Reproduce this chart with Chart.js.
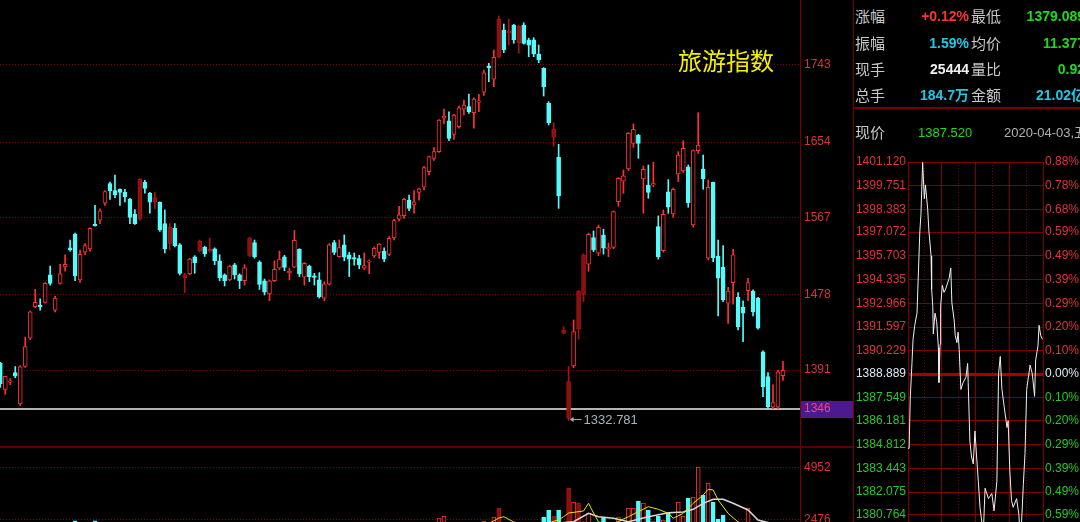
<!DOCTYPE html>
<html>
<head>
<meta charset="utf-8">
<script src="https://cdn.jsdelivr.net/npm/chart.js@4.4.0/dist/chart.umd.min.js"></script>
<style>
html, body { margin: 0; padding: 0; background: #000; width: 1080px; height: 522px; overflow: hidden; }
canvas { position: absolute; }
.ln { position: absolute; background: #7a0000; }
.lab { position: absolute; font: 15px "Noto Sans CJK SC", sans-serif; color: #c8c8c8; line-height: 20px; white-space: nowrap; }
.val { position: absolute; width: 110px; text-align: right; font: bold 14px "Liberation Sans", "Noto Sans CJK SC", sans-serif; line-height: 20px; white-space: nowrap; }
</style>
</head>
<body>
<canvas id="kline" width="853" height="446" style="left:0;top:0"></canvas>
<canvas id="vol" width="853" height="130" style="left:0;top:448px"></canvas>
<canvas id="intra" width="260" height="440" style="left:853px;top:150px"></canvas>

<div class="ln" style="left:853px;top:0;width:1px;height:522px"></div>
<div class="ln" style="left:853px;top:107px;width:227px;height:2px"></div>
<div class="ln" style="left:0;top:446px;width:853px;height:2px;background:#5a0000"></div>

<div style="position:absolute;left:678px;top:45px;font:24px 'Noto Sans CJK SC';color:#f2f200;line-height:30px">旅游指数</div>

<div class="lab" style="left:855px;top:6px">涨幅</div>
<div class="lab" style="left:855px;top:33px">振幅</div>
<div class="lab" style="left:855px;top:59px">现手</div>
<div class="lab" style="left:855px;top:85px">总手</div>
<div class="val" style="left:859px;top:6px;color:#ff3232">+0.12%</div>
<div class="val" style="left:859px;top:33px;color:#1ec8e6">1.59%</div>
<div class="val" style="left:859px;top:59px;color:#f0f0f0">25444</div>
<div class="val" style="left:859px;top:85px;color:#1ec8e6">184.7万</div>
<div class="lab" style="left:971px;top:6px">最低</div>
<div class="lab" style="left:971px;top:33px">均价</div>
<div class="lab" style="left:971px;top:59px">量比</div>
<div class="lab" style="left:971px;top:85px">金额</div>
<div class="val" style="left:975px;top:6px;color:#20d820">1379.089</div>
<div class="val" style="left:975px;top:33px;color:#20d820">11.377</div>
<div class="val" style="left:975px;top:59px;color:#20d820">0.92</div>
<div class="val" style="left:975px;top:85px;color:#1ec8e6">21.02亿</div>
<div class="lab" style="left:855px;top:122px">现价</div>
<div style="position:absolute;left:918px;top:123px;font:13px 'Liberation Sans';color:#20d820;line-height:20px">1387.520</div>
<div style="position:absolute;left:1004px;top:123px;font:13px 'Liberation Sans','Noto Sans CJK SC';color:#b0b0b0;line-height:20px;white-space:nowrap">2020-04-03,五</div>

<script>
// daily candles, oldest first
const open = [1399,1368.7,1377,1388,1352,1395,1427.6,1464,1466,1469,
  1500.7,1460,1491,1510,1532,1548,1495,1527,1530.7,1559,
  1564,1583.4,1606,1598,1599.6,1596,1588,1570.6,1565,1607.6,
  1595,1585,1584.6,1560,1537,1554.6,1535.4,1497.6,1502,1521.7,
  1528,1532.6,1528,1530.7,1517,1500.7,1494.9,1512.5,1500.7,1494,
  1523.3,1538,1515.3,1494,1478.7,1494,1508.6,1521.7,1503.3,1509.8,
  1530.3,1498,1511,1499.8,1495,1473.9,1490,1538,1521.7,1535.4,
  1523.8,1520.7,1519.6,1508.6,1515.5,1522.6,1526.6,1528,1524.5,1543.5,
  1565,1569,1587,1581.4,1596,1601.9,1619.9,1635.3,1643,1681.5,
  1678.7,1663,1671.9,1691.9,1694.9,1688,1700,1711.5,1742,1726.5,
  1752.6,1783.4,1779.6,1789.2,1768.7,1789.2,1771.9,1771.9,1755.7,1739.2,
  1698.8,1659.6,1636.5,1433.4,1335,1395.6,1438,1478.4,1513,1543.7,
  1525.7,1546.8,1531,1532.6,1585.3,1609,1623,1652.6,1662.2,1611.4,
  1604.5,1604.5,1556.4,1528.7,1596.7,1571,1617.2,1620.7,1625.6,1558.4,
  1644.1,1623,1520,1607.6,1522.6,1509.6,1468,1491.8,1474.9,1463.4,
  1482.6,1482.2,1473.8,1412,1383.3,1348,1348,1384.6];
const high = [1400,1384,1381,1395,1396,1429,1459,1484,1473,1492,
  1511,1476,1513,1524,1541,1549,1529.5,1537,1555,1581,
  1577,1598,1608,1616,1600,1599.6,1589,1576,1612,1610,
  1596,1596,1585,1575.7,1560,1560,1537,1502.6,1520,1523,
  1541,1534,1543,1532,1524,1502,1512,1514,1502,1512.5,
  1544,1541,1517,1496,1495,1517,1528.3,1523.3,1508.6,1552,
  1531,1515,1512,1502.6,1503.4,1493,1537,1540.6,1541,1546.9,
  1527,1526,1523.3,1526,1518,1533,1537,1532,1545,1565,
  1580,1589,1593,1598,1601,1626,1638,1647.6,1680,1692,
  1689,1686,1695.7,1702.6,1709.5,1705,1709,1737,1745,1760.3,
  1799.5,1790.3,1796,1790,1789,1791.8,1774,1774.5,1766,1740,
  1700.7,1676.6,1651.5,1441,1395,1448.7,1483,1525,1549,1551.5,
  1558.4,1553.4,1537.3,1574.6,1613,1621.8,1665,1675,1663,1626.4,
  1627.6,1630.8,1568.8,1575.7,1610.7,1601,1643,1655.6,1627.6,1645,
  1688,1639.1,1610.3,1608,1541,1534.6,1486.5,1530.3,1480.3,1470.7,
  1496.9,1483.4,1475,1413,1388,1374,1391,1401.12];
const low = [1371,1363,1374,1382,1350,1394,1426,1463,1460,1468,
  1489,1458,1490,1505,1528,1494,1492,1524,1528,1557,
  1560,1581,1588,1590,1581,1585,1560,1559,1564,1595,
  1572,1577,1551,1526,1529.5,1533,1500.7,1480.4,1501,1502.6,
  1527,1522,1527,1512.5,1494,1488,1494,1496,1485,1489,
  1522,1520,1484,1477.6,1471,1493,1507,1505.6,1494.9,1509,
  1498.8,1489,1493,1489,1474,1471,1489,1524,1521,1517,
  1498.8,1512,1507.8,1507,1502,1521,1520,1516,1523,1541,
  1563,1566,1575,1572,1587,1598.8,1616,1632.8,1642,1675,
  1655.7,1657,1670,1685.3,1687,1670,1689,1708,1723.8,1718,
  1751,1757.2,1766,1768,1756.5,1767,1752.6,1752.6,1745.7,1707.2,
  1673.8,1649,1577.6,1433,1332.781,1393.7,1426.5,1470,1505,1527.6,
  1523,1524.8,1521.7,1531,1580,1595,1621,1648,1635.3,1571.9,
  1589.2,1602.6,1519,1527,1571.9,1567.3,1608.3,1619,1578.8,1556,
  1641,1599.6,1518,1516,1453.4,1469.9,1444.9,1467,1437.2,1423.7,
  1471,1453.4,1438,1360.2,1346.5,1346.5,1346.5,1379.089];
const close = [1375,1383.6,1378,1384,1394.6,1418,1458,1469,1464,1491,
  1491,1474,1502,1513,1529.5,1500,1524.5,1534.5,1554.6,1557.5,
  1574.6,1597,1598,1593,1596,1591,1567,1560,1611,1600.7,
  1584.6,1590,1552.6,1530.7,1556,1534.5,1502.6,1500.7,1519,1514.8,
  1539.6,1525,1530.5,1517,1497.6,1494,1511,1500.7,1494,1509,
  1543.5,1521.7,1489.9,1480.7,1494,1507.3,1519,1509.4,1505,1540.6,
  1502,1514,1498.8,1497.8,1475.6,1490.4,1535.4,1526.6,1532.4,1521.3,
  1519,1518.8,1512.2,1511.6,1516.7,1531.5,1536.3,1519,1542.9,1563.5,
  1570,1588,1577.6,1585,1600,1624.6,1637.2,1643,1679.5,1684,
  1658.4,1685.3,1693.7,1696.8,1689,1703.8,1701.5,1734,1740,1751.9,
  1795.7,1760.3,1782.2,1771.9,1788,1768,1766,1755.7,1748.8,1718,
  1676.5,1668.8,1591.9,1437.2,1377.5,1435.3,1482.2,1523.8,1547.6,1529.5,
  1555.7,1531.5,1532.4,1573.8,1612.3,1615,1664.2,1668.8,1652.6,1622.6,
  1596,1606,1521.7,1570.7,1579,1599.6,1639.1,1646.9,1584.1,1644.1,
  1650.7,1611.4,1601.9,1520.6,1496.9,1471.8,1482.2,1523.8,1441,1456.5,
  1491.8,1458.4,1439.2,1371.8,1348.7,1353.3,1388.889,1390.56];
const volume = [1800,1900,1500,1600,2200,2100,2300,1900,1700,2000,
  1900,1600,1800,1700,1500,2440,2000,1600,1900,2440,
  2000,2100,1900,1800,1500,1600,2000,1700,2300,1800,
  1700,1600,2000,2100,1800,1700,1900,1600,1500,1400,
  1600,1400,1300,1500,1700,1300,1400,1500,1300,1400,
  1800,1600,1700,1600,1700,1500,1600,1500,1300,1900,
  1700,1500,1400,1300,1600,1500,1900,1600,1500,1600,
  1400,1300,1300,1200,1300,1400,1500,1400,1600,1900,
  2000,2100,1900,1800,2000,2200,2300,2200,2571,2666,
  2300,2200,2300,2100,2000,2300,2100,2428,2200,2619,
  3047,2300,2200,2100,2300,2200,1900,2100,1800,2619,
  2952,2666,2952,1900,3999,3333,3285,2400,2809,2350,
  2200,2550,2000,2300,2619,2300,3047,3047,3380,3285,
  2952,2400,2666,2476,2809,2300,3333,2666,3523,3571,
  5000,3666,4237,3333,2523,2714,2300,2350,2200,2300,
  3047,2300,2100,2400,2300,2000,1900,1100];
// volume moving averages, read at a few days
const ma5Day = [98,100,101,103,106,110,112,113,114,117,118,119,120,123,126,128,130,132,134,135,137,139,141,142,143,144,146,148,151];
const ma5Val = [2300,2571,2633,2381,2250,2350,2480,2633,2809,2904,3271,2809,2381,2300,2633,2871,3109,2985,2795,2557,2795,3271,3666,3937,3904,3428,2795,2381,2250];
const ma10Day = [110,115,118,120,123,126,130,134,137,139,141,143,145,147,150,152,155];
const ma10Val = [2300,2395,2795,2633,2557,2395,2633,2823,2857,2985,3271,3461,3461,3271,2952,2476,2300];
const priceTicks = [1391, 1478, 1567, 1654, 1743];
const supportLevel = 1346;
const volTicks = [2476, 4952];
const darkUp = [28,31,34,37,40,42,50,100,102,104,111,113,114,116,117];

// intraday (minutes since open)
const intraMin = [0,2,4,7,9,12,16,21,23,26,29,31,35,37,41,42,44,45,48,51,54,55,57,58,61,64,67,71,73,76,78,82,84,87,89,91,94,98,103,106,107,110,113,116,119,122,125,128,131,134,137,143,149,153,158,161,164,167,171,176,178,181,184,187,193,197,200,202,205,208,211,214,217,221,225,227,231,233,236,239];
const intraPrice = [1384.6,1384.6,1387.5,1389.5,1390.9,1391.7,1392.4,1397.1,1398.1,1401.1,1399.0,1399.8,1398.4,1397.2,1395.7,1393.8,1392.8,1391.2,1392.4,1391.9,1390.4,1388.4,1390.6,1392.8,1394.0,1393.6,1393.8,1394.2,1394.4,1395.0,1393.0,1392.0,1391.1,1390.7,1391.3,1390.3,1388.0,1388.4,1388.7,1389.5,1388.4,1385.0,1384.1,1383.7,1385.6,1384.1,1382.7,1381.2,1380.4,1379.8,1382.3,1381.7,1382.0,1381.0,1382.7,1388.9,1389.9,1388.0,1387.0,1385.8,1386.2,1383.3,1381.6,1381.2,1381.7,1380.8,1379.1,1380.4,1382.5,1384.3,1388.0,1388.7,1389.4,1388.9,1387.6,1389.7,1390.5,1391.7,1391.1,1390.9];
const intraLabels = ['1401.120','1399.751','1398.383','1397.072','1395.703','1394.335','1392.966','1391.597','1390.229','1388.889','1387.549','1386.181','1384.812','1383.443','1382.075','1380.764','1379.395','1378.026','1376.658'];
const intraPct = ['0.88%','0.78%','0.68%','0.59%','0.49%','0.39%','0.29%','0.20%','0.10%','0.00%','0.10%','0.20%','0.29%','0.39%','0.49%','0.59%','0.68%','0.78%','0.88%'];
const preClose = 1388.889;

Chart.defaults.font.family = '"Liberation Sans", Arial, sans-serif';
Chart.defaults.font.size = 12;

const RED = '#ff3232', CYAN = '#54fcfc', DARK = '#a81414', AXIS = '#7a0000';
const days = open.map((_, i) => i);
const dark = new Set(darkUp);
const isUp = i => close[i] >= open[i];
const lineColor = i => isUp(i) ? (dark.has(i) ? DARK : RED) : CYAN;
const fillColor = i => isUp(i) ? (dark.has(i) ? '#8a1010' : '#000') : CYAN;
const xRange = { type: 'linear', display: false, offset: false, min: -0.06, max: 160.42 };
const noPad = w => s => { s.width = w; s.paddingTop = 0; s.paddingBottom = 0; };

const klineExtras = {
  id: 'klineExtras',
  beforeDraw(chart) {
    const { ctx, chartArea: a, scales: { y } } = chart;
    const py = Math.round(y.getPixelForValue(supportLevel));
    ctx.save();
    ctx.fillStyle = '#4c1a8e';
    ctx.fillRect(a.right + 1, py - 8, 52, 17);
    ctx.restore();
  },
  beforeDatasetsDraw(chart) {
    const { ctx, chartArea: a, scales: { y } } = chart;
    const py = Math.round(y.getPixelForValue(supportLevel));
    ctx.save();
    ctx.fillStyle = '#b4b4b4';
    ctx.fillRect(a.left, py - 1, a.right - a.left, 2);
    ctx.restore();
  },
  afterDatasetsDraw(chart) {
    const { ctx, scales: { x, y } } = chart;
    const lo = Math.min(...low);
    const i = low.indexOf(lo);
    const px = x.getPixelForValue(i) + 1, py = Math.round(y.getPixelForValue(lo)) - 0.5;
    ctx.save();
    ctx.strokeStyle = '#a8a8a8';
    ctx.fillStyle = '#a8a8a8';
    ctx.lineWidth = 1;
    ctx.beginPath(); ctx.moveTo(px + 2, py); ctx.lineTo(px + 12, py); ctx.stroke();
    ctx.beginPath(); ctx.moveTo(px, py); ctx.lineTo(px + 4, py - 2.5); ctx.lineTo(px + 4, py + 2.5); ctx.closePath(); ctx.fill();
    ctx.font = '13px "Liberation Sans"';
    ctx.fillStyle = '#aab2bc';
    ctx.textBaseline = 'middle';
    ctx.fillText(lo.toFixed(3), px + 14, py + 1);
    ctx.restore();
  }
};

new Chart(document.getElementById('kline'), {
  type: 'bar',
  data: {
    datasets: [
      {
        data: days.map(i => ({ x: i, y: [low[i], high[i]] })),
        backgroundColor: days.map(lineColor),
        barThickness: 1, grouped: false, order: 2
      },
      {
        data: days.map(i => ({ x: i, y: [Math.min(open[i], close[i]), Math.max(open[i], close[i])] })),
        backgroundColor: days.map(fillColor),
        borderColor: days.map(lineColor),
        borderWidth: 1, borderSkipped: false, barThickness: 4, minBarLength: 1,
        grouped: false, order: 1
      }
    ]
  },
  options: {
    responsive: false, animation: false, events: [],
    layout: { padding: 0 },
    plugins: { legend: { display: false }, tooltip: { enabled: false } },
    scales: {
      x: xRange,
      y: {
        position: 'right', min: 1303.3, max: 1818.0,
        afterBuildTicks: s => { s.ticks = [supportLevel].concat(priceTicks).map(v => ({ value: v })); },
        afterFit: noPad(53),
        grid: { color: c => c.tick && c.tick.value === supportLevel ? 'rgba(0,0,0,0)' : '#8a0000', drawTicks: false },
        border: { color: AXIS, dash: [1, 2] },
        ticks: {
          padding: 4, autoSkip: false,
          color: c => c.tick && c.tick.value === supportLevel ? '#f04a6e' : '#dc3232',
          callback: v => String(v)
        }
      }
    }
  },
  plugins: [klineExtras]
});

new Chart(document.getElementById('vol'), {
  type: 'bar',
  data: {
    datasets: [
      {
        type: 'line', data: ma5Day.map((d, k) => ({ x: d, y: ma5Val[k] })),
        borderColor: '#e6e600', borderWidth: 1, pointRadius: 0, order: 0
      },
      {
        type: 'line', data: ma10Day.map((d, k) => ({ x: d, y: ma10Val[k] })),
        borderColor: '#d8d8d8', borderWidth: 1.5, pointRadius: 0, order: 0
      },
      {
        data: days.map(i => ({ x: i, y: volume[i] })),
        backgroundColor: days.map(fillColor),
        borderColor: days.map(lineColor),
        borderWidth: 1, borderSkipped: false, barThickness: 4, order: 1
      }
    ]
  },
  options: {
    responsive: false, animation: false, events: [],
    layout: { padding: { bottom: 6 } },
    plugins: { legend: { display: false }, tooltip: { enabled: false } },
    scales: {
      x: xRange,
      y: {
        position: 'right', min: 0, max: 5904,
        afterBuildTicks: s => { s.ticks = volTicks.map(v => ({ value: v })); },
        afterFit: noPad(53),
        grid: { color: '#8a0000', drawTicks: false },
        border: { color: AXIS, dash: [1, 2] },
        ticks: { padding: 4, color: '#dc3232', callback: v => String(v) }
      }
    }
  }
});

const intraTicks = intraLabels.map(Number);
const levelColor = v => v > preClose + 0.001 ? '#e03434' : (v < preClose - 0.001 ? '#22cc22' : '#dfe8f5');
new Chart(document.getElementById('intra'), {
  type: 'line',
  data: {
    datasets: [{
      data: intraMin.map((t, k) => ({ x: t, y: intraPrice[k] })),
      borderColor: '#f0f0f0', borderWidth: 1, pointRadius: 0
    }]
  },
  options: {
    responsive: false, animation: false, events: [],
    layout: { padding: { top: 12, bottom: 4 } },
    plugins: { legend: { display: false }, tooltip: { enabled: false } },
    scales: {
      x: {
        type: 'linear', min: 0, max: 240,
        afterBuildTicks: s => { s.ticks = [0, 30, 60, 90, 120, 150, 180, 210, 240].map(v => ({ value: v })); },
        ticks: { display: false },
        grid: { color: '#800000', drawTicks: false },
        border: { display: false, dash: c => c.tick && c.tick.value % 60 !== 0 ? [1, 2] : [] }
      },
      y: {
        position: 'left', min: 1376.658, max: 1401.12,
        afterBuildTicks: s => { s.ticks = intraTicks.map(v => ({ value: v })); },
        afterFit: noPad(55),
        grid: {
          drawTicks: false,
          color: c => c.tick && Math.abs(c.tick.value - preClose) < 0.001 ? '#a80000' : '#800000',
          lineWidth: c => c.tick && Math.abs(c.tick.value - preClose) < 0.001 ? 3 : 1
        },
        border: { color: '#800000' },
        ticks: {
          padding: 2, autoSkip: false,
          color: c => levelColor(c.tick.value),
          callback: (v, i) => intraLabels[i]
        }
      },
      y2: {
        position: 'right', min: 1376.658, max: 1401.12,
        afterBuildTicks: s => { s.ticks = intraTicks.map(v => ({ value: v })); },
        afterFit: noPad(70),
        grid: { drawOnChartArea: false, drawTicks: false },
        border: { color: '#800000' },
        ticks: {
          padding: 2, autoSkip: false,
          color: c => levelColor(c.tick.value),
          callback: (v, i) => intraPct[i]
        }
      }
    }
  }
});
</script>
</body>
</html>
